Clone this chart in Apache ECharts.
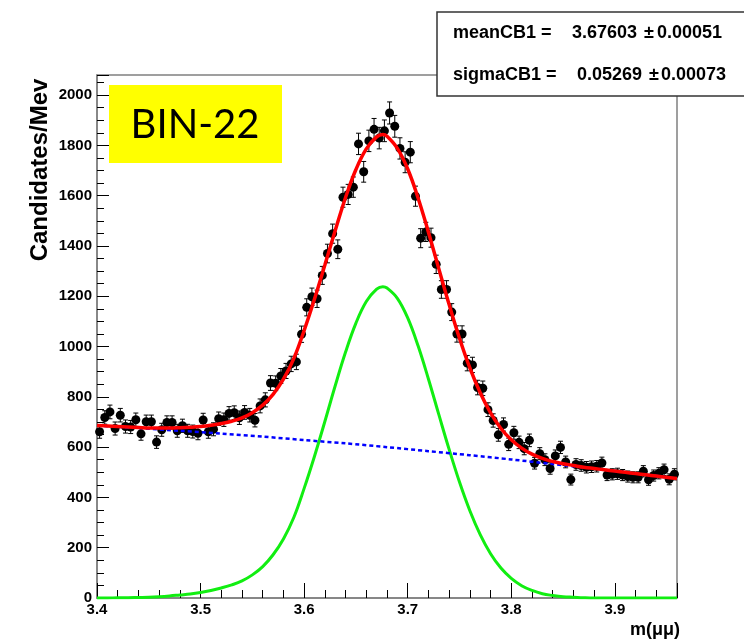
<!DOCTYPE html>
<html><head><meta charset="utf-8">
<script src="https://cdn.jsdelivr.net/npm/echarts@6/dist/echarts.min.js"></script>
<style>html,body{margin:0;padding:0;background:#fff}#c{width:744px;height:641px}</style>
</head><body><div id="c"></div>
<script>
// ---- data ----
const binStart = 3.4;
const binWidth = 0.005;
const counts = [
 661,718,740,674,727,682,680,709,653,701,
 701,620,669,698,698,665,685,665,662,655,
 708,661,671,713,709,734,737,717,738,727,
 707,764,788,855,854,883,903,931,939,1049,
 1156,1198,1190,1283,1370,1449,1387,1594,1605,1634,
 1806,1695,1818,1864,1829,1858,1929,1876,1788,1733,
 1773,1598,1431,1456,1433,1327,1227,1227,1137,1050,
 1050,934,927,837,834,749,706,649,690,611,
 657,619,594,627,536,574,550,515,565,599,
 541,471,531,527,520,522,524,537,489,492,
 494,489,483,480,480,504,470,487,496,510,
 472,492
];
const curveX = [3.40,3.41,3.42,3.43,3.44,3.45,3.46,3.47,3.48,3.49,
 3.50,3.51,3.52,3.53,3.54,3.55,3.56,3.57,3.58,3.59,
 3.60,3.61,3.62,3.63,3.64,3.65,3.66,3.67,3.676,3.68,3.69,
 3.70,3.71,3.72,3.73,3.74,3.75,3.76,3.77,3.78,3.79,
 3.80,3.81,3.82,3.83,3.84,3.85,3.86,3.87,3.88,3.89,
 3.90,3.91,3.92,3.93,3.94,3.95,3.96];
const totalFit = [686,684,682,680,678,676,676,676,677,679,
 682,687,694,703,716,737,767,810,870,952,
 1064,1189,1324,1462,1593,1704,1786,1834,1843,1836,1788,
 1706,1591,1455,1310,1167,1033,915,816,736,674,
 629,596,572,555,543,534,527,520,515,510,
 505,500,495,490,485,480,475];
const signalFit = [0,0,1,1,2,3,5,8,12,16,
 22,30,40,52,68,92,125,172,235,320,
 436,564,702,844,978,1093,1179,1228,1238,1233,1192,
 1114,1003,871,730,591,461,347,252,176,119,
 78,49,30,17,10,5,3,1,0,0,
 0,0,0,0,0,0,0];
const bkgX = [3.40,3.44,3.48,3.52,3.56,3.60,3.64,3.68,3.72,3.76,3.80,3.84,3.88,3.92,3.96];
const bkgFit = [686,676,665,654,642,628,615,600,584,568,551,533,515,495,475];
const statLabels = ['meanCB1 =', 'sigmaCB1 ='];
const statValues = ['3.67603', '0.05269'];
const statErrors = ['0.00051', '0.00073'];
const binLabel = 'BIN-22';
const yTitle = 'Candidates/Mev';
const xTitle = 'm(\u03bc\u03bc)';

// ---- build ----
const points = counts.map((v, i) => [+(binStart + binWidth * (i + 0.5)).toFixed(4), v, Math.sqrt(v)]);
const zip = (xs, ys) => xs.map((x, i) => [x, ys[i]]);

const chart = echarts.init(document.getElementById('c'), null, {renderer: 'canvas'});
const FONT = '"Liberation Sans", Arial, Helvetica, sans-serif';
const tickFont = {color: '#000', fontWeight: 'bold', fontSize: 15, fontFamily: FONT};

const statFont = 'bold 18px ' + FONT;
const statText = (t, x, y) => ({type: 'text', x: x, y: y, z: 100,
  style: {text: t, font: statFont, fill: '#000', align: 'left', verticalAlign: 'middle'}});

chart.setOption({
  animation: false,
  backgroundColor: '#fff',
  grid: {left: 97, right: 67, top: 75, bottom: 43, show: true, borderColor: '#808080', borderWidth: 1.5, backgroundColor: 'transparent'},
  xAxis: {
    type: 'value', min: 3.4, max: 3.96, interval: 0.1,
    axisLine: {show: true, onZero: false, lineStyle: {color: '#808080', width: 1.5}},
    axisTick: {show: true, inside: true, length: 15, lineStyle: {color: '#000', width: 1}},
    minorTick: {show: true, splitNumber: 5, length: 8, lineStyle: {color: '#000', width: 1}},
    splitLine: {show: false}, minorSplitLine: {show: false},
    axisLabel: Object.assign({margin: 4, showMaxLabel: false, formatter: v => v.toFixed(1)}, tickFont)
  },
  yAxis: {
    type: 'value', min: 0, max: 2080, interval: 200,
    axisLine: {show: true, lineStyle: {color: '#808080', width: 1.5}},
    axisTick: {show: true, inside: true, length: 12, lineStyle: {color: '#000', width: 1}},
    minorTick: {show: true, splitNumber: 4, length: 7, lineStyle: {color: '#000', width: 1}},
    splitLine: {show: false}, minorSplitLine: {show: false},
    axisLabel: Object.assign({margin: 5, showMaxLabel: false, formatter: v => String(Math.round(v))}, tickFont)
  },
  series: [
    {
      type: 'custom', z: 2, data: points, encode: {x: 0, y: 1},
      renderItem: function (params, api) {
        const x = api.value(0), y = api.value(1), e = api.value(2);
        const t = api.coord([x, y + e]), b = api.coord([x, y - e]);
        const c = 2.5, st = {stroke: '#000', lineWidth: 1};
        return {type: 'group', children: [
          {type: 'line', shape: {x1: t[0], y1: t[1], x2: b[0], y2: b[1]}, style: st},
          {type: 'line', shape: {x1: t[0] - c, y1: t[1], x2: t[0] + c, y2: t[1]}, style: st},
          {type: 'line', shape: {x1: b[0] - c, y1: b[1], x2: b[0] + c, y2: b[1]}, style: st}
        ]};
      }
    },
    {type: 'scatter', z: 3, symbol: 'circle', symbolSize: 9, itemStyle: {color: '#000', opacity: 1},
     data: points.map(p => [p[0], p[1]])},
    {type: 'line', z: 4, smooth: 0.4, showSymbol: false, data: zip(curveX, signalFit),
     lineStyle: {color: '#11ee11', width: 3}},
    {type: 'line', z: 5, smooth: 0.3, showSymbol: false, data: zip(bkgX, bkgFit),
     lineStyle: {color: '#0000ff', width: 2.5, type: [4, 3]}},
    {type: 'line', z: 6, smooth: 0.4, showSymbol: false, data: zip(curveX, totalFit),
     lineStyle: {color: '#ff0000', width: 3.5}}
  ],
  graphic: [
    {type: 'rect', z: 99, shape: {x: 437, y: 12, width: 330, height: 84},
     style: {fill: '#fff', stroke: '#333', lineWidth: 1.5}},
    statText(statLabels[0], 453, 33),
    statText(statValues[0], 572, 33),
    statText('\u00b1', 644, 33),
    statText(statErrors[0], 657, 33),
    statText(statLabels[1], 453, 75),
    statText(statValues[1], 577, 75),
    statText('\u00b1', 649, 75),
    statText(statErrors[1], 661, 75),
    {type: 'rect', z: 99, shape: {x: 109, y: 85, width: 173, height: 78}, style: {fill: '#ffff00'}},
    {type: 'text', z: 100, x: 195, y: 125,
     style: {text: binLabel, font: '40px Lato, "Open Sans", sans-serif', fill: '#000', align: 'center', verticalAlign: 'middle'}},
    {type: 'text', z: 100, x: 40, y: 170, rotation: Math.PI / 2,
     style: {text: yTitle, font: 'bold 24px ' + FONT, fill: '#000', align: 'center', verticalAlign: 'middle'}},
    {type: 'text', z: 100, x: 680, y: 630,
     style: {text: xTitle, font: 'bold 18px ' + FONT, fill: '#000', align: 'right', verticalAlign: 'middle'}}
  ]
});
</script>
</body></html>
